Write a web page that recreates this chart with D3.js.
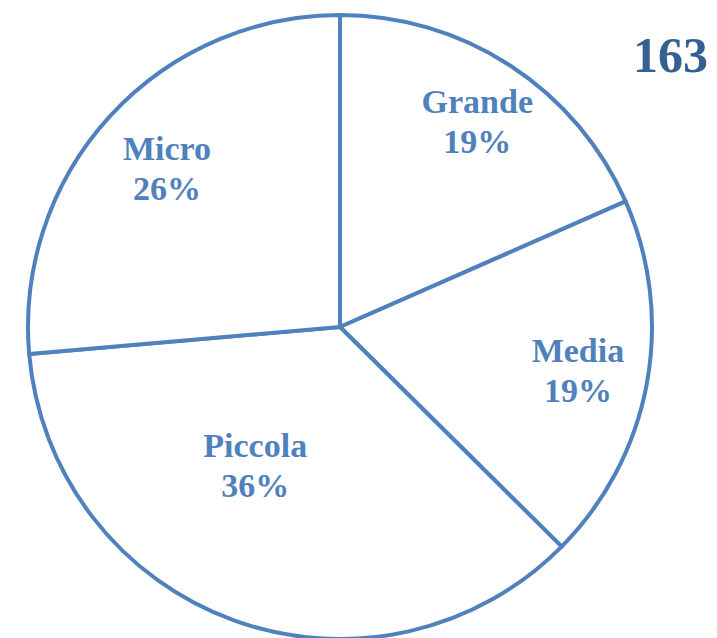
<!DOCTYPE html>
<html>
<head>
<meta charset="utf-8">
<script src="https://cdnjs.cloudflare.com/ajax/libs/d3/7.8.5/d3.min.js"></script>
<style>
html,body{margin:0;padding:0;background:#fff;}
svg{display:block;}
</style>
</head>
<body>
<script>
var categories = ["Grande", "Media", "Piccola", "Micro"];
var counts = [30, 31, 59, 43];
var pctLabels = ["19%", "19%", "36%", "26%"];
var totalLabel = "163";

var W = 717, H = 638;
var cx = 340, cy = 327, R = 312;
// label placement (radius from center, extra nudge) - excel "best fit" look
var labelRadius = [242, 243, 164, 232];
var labelNudge = [[5, -3], [-1, -1], [-29, -16], [-2, -2]];

var blue = "#4f81bd";

var svg = d3.select("body").append("svg")
	.attr("width", W).attr("height", H);

var data = categories.map(function(c, i){
	return {name: c, value: counts[i], pct: pctLabels[i], idx: i};
});

var pie = d3.pie().sort(null).value(function(d){ return d.value; });
var arc = d3.arc().innerRadius(0).outerRadius(R);

var g = svg.append("g").attr("transform", "translate(" + cx + "," + cy + ")");
var arcs = pie(data);

g.selectAll("path.slice").data(arcs).enter().append("path")
	.attr("class", "slice")
	.attr("d", arc)
	.attr("fill", "#fff")
	.attr("stroke", blue)
	.attr("stroke-width", 4)
	.attr("stroke-linejoin", "round");

var labels = g.selectAll("text.lbl").data(arcs).enter().append("text")
	.attr("class", "lbl")
	.attr("text-anchor", "middle")
	.attr("font-family", "'Liberation Serif', 'DejaVu Serif', serif")
	.attr("font-weight", "bold")
	.attr("font-size", 34)
	.attr("fill", blue)
	.attr("transform", function(d){
		var i = d.data.idx;
		var c = d3.arc().innerRadius(labelRadius[i]).outerRadius(labelRadius[i]).centroid(d);
		return "translate(" + (c[0] + labelNudge[i][0]) + "," + (c[1] + labelNudge[i][1]) + ")";
	});
labels.append("tspan").attr("x", 0).attr("y", -8).text(function(d){ return d.data.name; });
labels.append("tspan").attr("x", 0).attr("y", 32).text(function(d){ return d.data.pct; });

svg.append("text")
	.attr("x", 708).attr("y", 72)
	.attr("text-anchor", "end")
	.attr("font-family", "'Liberation Serif', 'DejaVu Serif', serif")
	.attr("font-weight", "bold")
	.attr("font-size", 50)
	.attr("fill", "#376092")
	.text(totalLabel);
</script>
</body>
</html>
